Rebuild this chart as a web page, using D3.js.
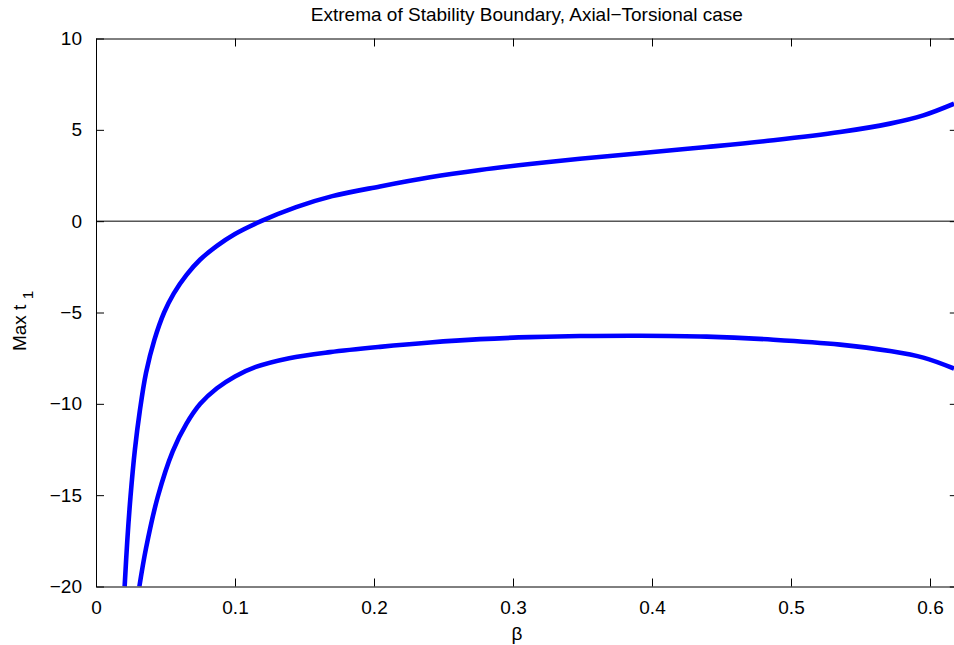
<!DOCTYPE html>
<html>
<head>
<meta charset="utf-8">
<script src="https://cdn.jsdelivr.net/npm/d3@7"></script>
<style>
  html, body { margin: 0; padding: 0; background: #fff; overflow: hidden; }
  svg { display: block; font-family: "Liberation Sans", Arial, Helvetica, sans-serif; }
</style>
</head>
<body>
<div id="chart"></div>
<script>
// Valeurs (β, max t1)
const upperBeta = [0.0206, 0.0225, 0.0248, 0.028, 0.0315, 0.036, 0.042, 0.049, 0.056, 0.065,
  0.075, 0.087, 0.1, 0.1187, 0.144, 0.17, 0.2043, 0.2403, 0.2763, 0.3122,
  0.3482, 0.3914, 0.4393, 0.4873, 0.5353, 0.5712, 0.5952, 0.6173]
const upperT1 = [-20, -17.5, -15.1, -12.5, -10.4, -8.3, -6.5, -5.0, -3.95, -2.95,
  -2.1, -1.35, -0.7, 0, 0.77, 1.37, 1.9, 2.4, 2.8, 3.13,
  3.42, 3.72, 4.06, 4.43, 4.88, 5.34, 5.79, 6.43]

const lowerBeta = [0.0312, 0.036, 0.0444, 0.0552, 0.065, 0.075, 0.087, 0.1, 0.115, 0.139,
  0.1683, 0.2043, 0.2403, 0.2763, 0.3122, 0.3482, 0.3914, 0.4393, 0.4873, 0.5353,
  0.5712, 0.5952, 0.6173]
const lowerT1 = [-20, -17.9, -15.1, -12.6, -11.1, -10.0, -9.15, -8.5, -7.98, -7.5,
  -7.17, -6.88, -6.64, -6.46, -6.35, -6.29, -6.27, -6.32, -6.49, -6.76,
  -7.11, -7.47, -8.07]

const xTicks = [0, 0.1, 0.2, 0.3, 0.4, 0.5, 0.6]
const yTicks = [-20, -15, -10, -5, 0, 5, 10]
const xDomain = [0, 0.62]
const yDomain = [-20, 10]

const W = 954, H = 645
const margin = { top: 38.5, right: -3.8, bottom: 58.5, left: 96 }
const width = W - margin.left - margin.right
const height = H - margin.top - margin.bottom
const fontSize = 19

const svg = d3.select("#chart").append("svg")
  .attr("width", W).attr("height", H)
  .attr("viewBox", `0 0 ${W} ${H}`)

const x = d3.scaleLinear().domain(xDomain).range([0, width])
const y = d3.scaleLinear().domain(yDomain).range([height, 0])

const g = svg.append("g").attr("transform", `translate(${margin.left},${margin.top})`)

svg.append("defs").append("clipPath").attr("id", "plotclip")
  .append("rect").attr("width", width).attr("height", height)

// Ligne y = 0
g.append("line")
  .attr("x1", x(xDomain[0])).attr("x2", x(xDomain[1]))
  .attr("y1", y(0)).attr("y2", y(0))
  .attr("stroke", "#000").attr("stroke-width", 1)

// Courbes : Catmull-Rom centripète, robuste sur les parties presque verticales
const line = d3.line()
  .x(d => x(d[0])).y(d => y(d[1]))
  .curve(d3.curveCatmullRom.alpha(0.5))

const series = [
  d3.zip(upperBeta, upperT1),
  d3.zip(lowerBeta, lowerT1),
]
g.append("g").attr("clip-path", "url(#plotclip)")
  .selectAll("path")
  .data(series)
  .join("path")
  .attr("d", line)
  .attr("fill", "none")
  .attr("stroke", "#0000ff")
  .attr("stroke-width", 4.6)
  .attr("stroke-linejoin", "round")
  .attr("stroke-linecap", "butt")

// Axes façon MATLAB : ticks vers l'intérieur, cadre complet
const tickLen = 8
const styleAxis = s => {
  s.select(".domain").attr("stroke", "#000").attr("stroke-width", 1)
  s.selectAll(".tick line").attr("stroke", "#000").attr("stroke-width", 1)
  s.selectAll(".tick text").attr("fill", "#000").attr("font-size", fontSize)
    .attr("font-family", "Liberation Sans, Arial, sans-serif")
}

g.append("g")
  .attr("transform", `translate(0,${height})`)
  .call(d3.axisBottom(x).tickValues(xTicks).tickSizeInner(-tickLen).tickSizeOuter(0)
    .tickPadding(tickLen + 6).tickFormat(d => d === 0 ? "0" : d3.format(".1f")(d)))
  .call(styleAxis)

g.append("g")
  .call(d3.axisTop(x).tickValues(xTicks).tickSizeInner(-tickLen).tickSizeOuter(0).tickFormat(""))
  .call(styleAxis)

g.append("g")
  .call(d3.axisLeft(y).tickValues(yTicks).tickSizeInner(-tickLen).tickSizeOuter(0)
    .tickPadding(tickLen + 6).tickFormat(d => d < 0 ? "\u2212" + Math.abs(d) : String(d)))
  .call(styleAxis)

g.append("g")
  .attr("transform", `translate(${width},0)`)
  .call(d3.axisRight(y).tickValues(yTicks).tickSizeInner(-tickLen).tickSizeOuter(0).tickFormat(""))
  .call(styleAxis)

// Titre
svg.append("text")
  .attr("x", margin.left + width / 2).attr("y", 21)
  .attr("text-anchor", "middle").attr("font-size", fontSize)
  .text("Extrema of Stability Boundary, Axial\u2212Torsional case")

// Label X
svg.append("text")
  .attr("x", margin.left + width / 2 - 10).attr("y", 640)
  .attr("text-anchor", "middle").attr("font-size", fontSize)
  .text("\u03b2")

// Label Y avec indice
const ylab = svg.append("text")
  .attr("transform", `translate(26,321) rotate(-90)`)
  .attr("text-anchor", "middle").attr("font-size", fontSize)
ylab.append("tspan").text("Max t ")
ylab.append("tspan").attr("font-size", fontSize * 0.8).attr("dy", 7).text("1")
</script>
</body>
</html>
